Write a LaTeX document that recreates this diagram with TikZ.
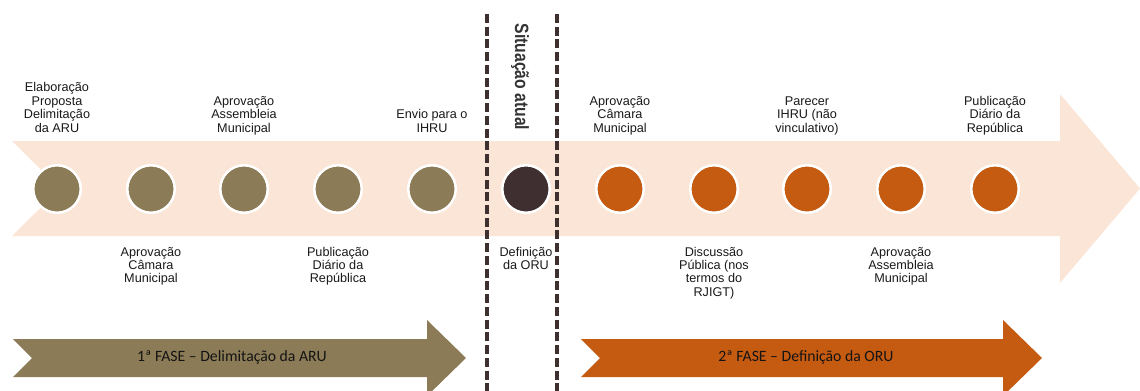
\documentclass[tikz,border=0pt]{standalone}
\usepackage{fontspec}
\setmainfont{Liberation Sans}
\newfontfamily\narrowfont[FakeStretch=0.82]{Liberation Sans}
\newfontfamily\calfont{Carlito}
\definecolor{pale}{HTML}{FBE5D6}
\definecolor{olive}{HTML}{8B7B57}
\definecolor{darkdot}{HTML}{3F2F30}
\definecolor{rust}{HTML}{C55A11}
\definecolor{dashc}{HTML}{3F3030}
\newcommand{\lbl}[2][b]{\begin{tabular}[#1]{@{}c@{}}#2\end{tabular}}
\begin{document}
\begin{tikzpicture}[x=0.75pt,y=-0.75pt,
  dot/.style={circle,draw=white,line width=1.875pt,minimum size=35.6pt,inner sep=0pt},
  lblnode/.style={anchor=base,inner sep=0pt,text=black!90,font=\fontsize{9.5}{10.05}\selectfont},
  divider/.style={draw=dashc,line width=2.4pt,dash pattern=on 6.75pt off 2.8pt},
  phasetext/.style={inner sep=0pt,font=\calfont\fontsize{11.8}{13}\selectfont,text=black!92}]
\useasboundingbox (0,0) rectangle (1140,390);
% main timeline arrow
\fill[pale] (12,141) -- (1060,141) -- (1060,94) -- (1140,188.5) -- (1060,283) -- (1060,236) -- (12,236) -- (60,188.5) -- cycle;
% dividers
\coordinate (d1t) at (487,14); \coordinate (d1b) at (487,392);
\coordinate (d2t) at (557,14); \coordinate (d2b) at (557,392);
\draw[divider] (d1t) -- (d1b);
\draw[divider] (d2t) -- (d2b);
% circles
\foreach \i/\x in {1/57,2/151,3/244,4/338,5/432}{\node[dot,fill=olive] (c\i) at (\x,189) {};}
\node[dot,fill=darkdot] (c6) at (526,189) {};
\foreach \i/\x in {7/620,8/714,9/807,10/901,11/995}{\node[dot,fill=rust] (c\i) at (\x,189) {};}
% top labels
\node[lblnode] (l1) at (57,132) {\lbl[b]{Elaboração\\Proposta\\Delimitação\\da ARU}};
\node[lblnode] (l3) at (244,132) {\lbl[b]{Aprovação\\Assembleia\\Municipal}};
\node[lblnode] (l5) at (432,132) {\lbl[b]{Envio para o\\IHRU}};
\node[lblnode] (l7) at (620,132) {\lbl[b]{Aprovação\\Câmara\\Municipal}};
\node[lblnode] (l9) at (807,132) {\lbl[b]{Parecer\\IHRU (não\\vinculativo)}};
\node[lblnode] (l11) at (995,132) {\lbl[b]{Publicação\\Diário da\\República}};
% bottom labels
\node[lblnode] (l2) at (151,256) {\lbl[t]{Aprovação\\Câmara\\Municipal}};
\node[lblnode] (l4) at (338,256) {\lbl[t]{Publicação\\Diário da\\República}};
\node[lblnode] (l6) at (526,256) {\lbl[t]{Definição\\da ORU}};
\node[lblnode] (l8) at (714,256) {\lbl[t]{Discussão\\Pública (nos\\termos do\\RJIGT)}};
\node[lblnode] (l10) at (901,256) {\lbl[t]{Aprovação\\Assembleia\\Municipal}};
% current situation
\node[rotate=-90,inner sep=0pt,text=black!80,font=\narrowfont\bfseries\fontsize{14.4}{16}\selectfont] (sit) at (520,77) {Situação atual};
% phase arrows
\fill[olive] (13,339) -- (427,339) -- (427,320) -- (466,358) -- (427,396) -- (427,377) -- (13,377) -- (32,358) -- cycle;
\node[phasetext] (p1) at (232,357) {1ª FASE – Delimitação da ARU};
\fill[rust] (581,339) -- (1003,339) -- (1003,320) -- (1042,358) -- (1003,396) -- (1003,377) -- (581,377) -- (600,358) -- cycle;
\node[phasetext] (p2) at (806,357) {2ª FASE – Definição da ORU};
\end{tikzpicture}
\end{document}
